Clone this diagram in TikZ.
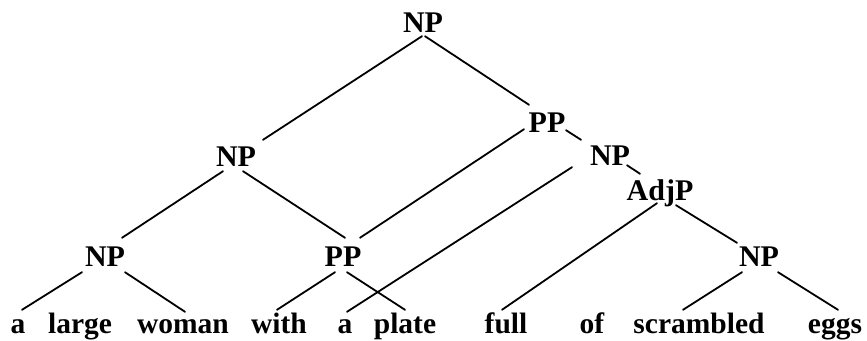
\documentclass[tikz,border=0pt]{standalone}
\usepackage{fontspec}
\setmainfont{Liberation Serif}
\begin{document}
\begin{tikzpicture}[x=1pt,y=-1pt,
  lab/.style={font=\fontsize{30}{32}\selectfont\bfseries, inner sep=0pt, text height=20pt, text depth=0pt, anchor=base},
  wrd/.style={font=\fontsize{29.5}{32}\selectfont\bfseries, inner sep=0pt, text height=23pt, text depth=0pt, anchor=base},
  br/.style={line width=1.8pt, line cap=round}]
\useasboundingbox (0,0) rectangle (867,340);
% phrase labels
\node[lab] (np0) at (423,32) {NP};
\node[lab] (np1) at (236,166) {NP};
\node[lab] (pp1) at (547,132) {PP};
\node[lab] (np2) at (610,165) {NP};
\node[lab] (adjp) at (660,200) {AdjP};
\node[lab] (np3) at (105,266) {NP};
\node[lab] (pp2) at (343,266) {PP};
\node[lab] (np4) at (759,266) {NP};
% words
\node[wrd] (w1) at (18,333) {a};
\node[wrd] (w2) at (80,333) {large};
\node[wrd] (w3) at (183,333) {woman};
\node[wrd] (w4) at (279,333) {with};
\node[wrd] (w5) at (345,333) {a};
\node[wrd] (w6) at (405,333) {plate};
\node[wrd] (w7) at (506,333) {full};
\node[wrd] (w8) at (592,333) {of};
\node[wrd] (w9) at (699,333) {scrambled};
\node[wrd] (w10) at (835,333) {eggs};
% branches
\draw[br] ([shift={(-1,4)}]np0.south) -- ([shift={(27,-6)}]np1.north);
\draw[br] ([shift={(2,4)}]np0.south) -- ([shift={(-18,-7)}]pp1.north);
\draw[br] ([shift={(-13,5)}]np1.south) -- ([shift={(17,-8)}]np3.north);
\draw[br] ([shift={(7,5)}]np1.south) -- ([shift={(2,-8)}]pp2.north);
\draw[br] ([shift={(-23,-3)}]pp1.south) -- ([shift={(17,-8)}]pp2.north);
\draw[br] ([shift={(19,-2)}]pp1.south) -- ([shift={(-29,-5)}]np2.north);
\draw[br] ([shift={(-38,2)}]np2.south) -- ([shift={(2,2)}]w5.north);
\draw[br] ([shift={(17,0)}]np2.south) -- ([shift={(-20,-6)}]adjp.north);
\draw[br] ([shift={(-3,3)}]adjp.south) -- ([shift={(-4,0)}]w7.north);
\draw[br] ([shift={(16,5)}]adjp.south) -- ([shift={(-22,-3)}]np4.north);
\draw[br] ([shift={(-23,6)}]np3.south) -- ([shift={(4,0)}]w1.north);
\draw[br] ([shift={(20,6)}]np3.south) -- ([shift={(2,2)}]w3.north);
\draw[br] ([shift={(-8,6)}]pp2.south) -- ([shift={(-2,0)}]w4.north);
\draw[br] ([shift={(4,6)}]pp2.south) -- ([shift={(0,0)}]w6.north);
\draw[br] ([shift={(-17,6)}]np4.south) -- ([shift={(-16,0)}]w9.north);
\draw[br] ([shift={(19,6)}]np4.south) -- ([shift={(3,0)}]w10.north);
\end{tikzpicture}
\end{document}
